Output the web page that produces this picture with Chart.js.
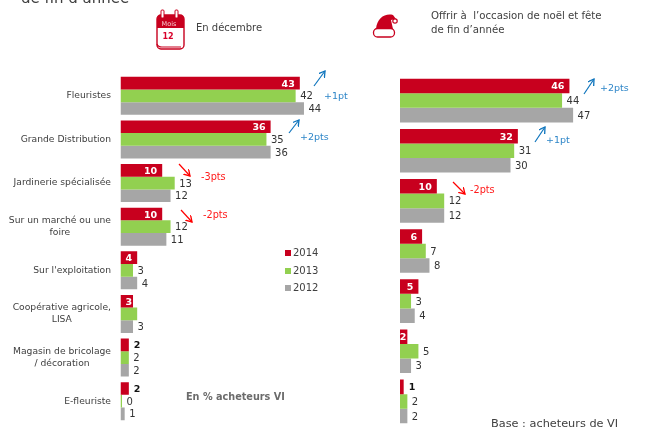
<!DOCTYPE html>
<html>
	<head>
		<meta charset="UTF-8" />
		<title>Achat de fleurs en décembre</title>
		<style type="text/css">
			html, body { margin: 0; padding: 0; background: #fff; }
			body { width: 662px; height: 433px; overflow: hidden; position: relative; font-family: "DejaVu Sans", sans-serif; color: #404040; }
			canvas { position: absolute; top: 0; }
			svg { position: absolute; left: 0; top: 0; }
			.txt { position: absolute; white-space: nowrap; line-height: 1; }
			.blue { color: #2e86c8; font-size: 9.5px; }
			.red { color: #ff1a1a; font-size: 9.7px; }
			.legendBox { position: absolute; width: 6px; height: 6px; }
		</style>
	</head>
	<body>
		<canvas id="chartDecembre"></canvas>
		<canvas id="chartNoel"></canvas>

		<svg width="662" height="433">
			<defs>
				<marker id="headBlue" markerWidth="7" markerHeight="7" refX="5" refY="3" orient="auto"><path d="M0 0L5 3L0 6" fill="none" stroke="#0f75bd" stroke-width="1.1"/></marker>
				<marker id="headRed" markerWidth="7" markerHeight="7" refX="5" refY="3" orient="auto"><path d="M0 0L5 3L0 6" fill="none" stroke="#ff0000" stroke-width="1.1"/></marker>
			</defs>
			<!-- calendrier -->
			<rect x="157" y="15" width="27" height="34" rx="4" fill="#fff" stroke="#c8001e" stroke-width="1.4"/>
			<path d="M157 28V19q0-4 4-4h19q4 0 4 4v9z" fill="#c8001e"/>
			<rect x="162" y="28" width="19" height="18" fill="#fff"/>
			<path d="M157 44q1 3 5 3h19" fill="none" stroke="#c8001e" stroke-width="1.2"/>
			<rect x="161" y="10" width="3" height="8" rx="1" fill="#fff" stroke="#c8001e"/>
			<rect x="175" y="10" width="3" height="8" rx="1" fill="#fff" stroke="#c8001e"/>
			<text x="169" y="26" text-anchor="middle" font-size="6.5" fill="#f6c9cf" font-family="DejaVu Sans">Mois</text>
			<text x="168" y="39" text-anchor="middle" font-size="8" font-weight="bold" fill="#d8002a" font-family="DejaVu Sans">12</text>
			<!-- bonnet -->
			<path d="M376 29C377 18 385 13 393 15L396 19L391 20L393 29z" fill="#c8001e"/>
			<circle cx="395" cy="21" r="2.2" fill="#fff" stroke="#c8001e" stroke-width="1.2"/>
			<rect x="373.5" y="28.5" width="21" height="8.5" rx="4" fill="#fff" stroke="#c8001e" stroke-width="1.3"/>
			<!-- fleches -->
			<line x1="314" y1="86" x2="325" y2="71" stroke="#0f75bd" stroke-width="1.2" marker-end="url(#headBlue)"/>
			<line x1="289" y1="133" x2="299" y2="120" stroke="#0f75bd" stroke-width="1.2" marker-end="url(#headBlue)"/>
			<line x1="179" y1="164" x2="190" y2="176" stroke="#ff0000" stroke-width="1.2" marker-end="url(#headRed)"/>
			<line x1="181" y1="210" x2="192" y2="222" stroke="#ff0000" stroke-width="1.2" marker-end="url(#headRed)"/>
			<line x1="584" y1="94" x2="594" y2="79" stroke="#0f75bd" stroke-width="1.2" marker-end="url(#headBlue)"/>
			<line x1="535" y1="142" x2="545" y2="127" stroke="#0f75bd" stroke-width="1.2" marker-end="url(#headBlue)"/>
			<line x1="453" y1="182" x2="465" y2="194" stroke="#ff0000" stroke-width="1.2" marker-end="url(#headRed)"/>
		</svg>

		<div class="txt" style="left:21px;top:-9.5px;font-size:15px;">de fin d’année</div>
		<div class="txt" style="left:196px;top:23px;font-size:10px;">En décembre</div>
		<div class="txt" style="left:431px;top:11px;font-size:10.2px;">Offrir à&nbsp; l’occasion de noël et fête</div>
		<div class="txt" style="left:431px;top:25px;font-size:10.2px;">de fin d’année</div>
		<div class="txt" style="left:186px;top:392px;font-size:9.7px;font-weight:bold;color:#6b6b6b;">En % acheteurs VI</div>
		<div class="txt" style="left:491px;top:418px;font-size:11.3px;">Base : acheteurs de VI</div>

		<div class="txt blue" style="left:324px;top:91px;">+1pt</div>
		<div class="txt blue" style="left:300px;top:132px;">+2pts</div>
		<div class="txt red" style="left:201px;top:172px;">-3pts</div>
		<div class="txt red" style="left:203px;top:210px;">-2pts</div>
		<div class="txt blue" style="left:600px;top:83px;">+2pts</div>
		<div class="txt blue" style="left:546px;top:135px;">+1pt</div>
		<div class="txt red" style="left:470px;top:185px;">-2pts</div>

		<div id="legende"></div>

		<script src="https://cdn.jsdelivr.net/npm/chart.js"></script>
		<script>
			//data
			const annees = ['2014', '2013', '2012'];
			const couleurs = ['#c8001e', '#92d050', '#a6a6a6'];

			const lieux = [
				['Fleuristes'],
				['Grande Distribution'],
				['Jardinerie spécialisée'],
				['Sur un marché ou une', 'foire'],
				["Sur l'exploitation"],
				['Coopérative agricole,', 'LISA'],
				['Magasin de bricolage', '/ décoration'],
				['E-fleuriste']
			];
			const decembre2014 = [43, 36, 10, 10, 4, 3, 2, 2];
			const decembre2013 = [42, 35, 13, 12, 3, 4, 2, 0];
			const decembre2012 = [44, 36, 12, 11, 4, 3, 2, 1];
			// the 2013 bar of Coopérative has no label in the original
			const decembre2013SansEtiquette = [5];

			const occasions = ['Fleuristes', 'Grande Distribution', 'Jardinerie spécialisée', 'Sur un marché ou une foire', "Sur l'exploitation", 'Coopérative agricole, LISA', 'E-fleuriste'];
			const noel2014 = [46, 32, 10, 6, 5, 2, 1];
			const noel2013 = [44, 31, 12, 7, 3, 5, 2];
			const noel2012 = [47, 30, 12, 8, 4, 3, 2];

			//value labels on the bars
			const etiquettes = {
				id: 'etiquettes',
				afterDatasetsDraw(chart, args, opts) {
					const ctx = chart.ctx;
					ctx.save();
					ctx.textBaseline = 'middle';
					chart.data.datasets.forEach((ds, d) => {
						chart.getDatasetMeta(d).data.forEach((bar, i) => {
							const v = ds.data[i];
							if (ds.sansEtiquette && ds.sansEtiquette.includes(i)) return;
							if (d === 0) {
								ctx.font = 'bold 9.5px "DejaVu Sans"';
								if (v <= opts.seuil) {
									ctx.fillStyle = '#111';
									ctx.textAlign = 'left';
									ctx.fillText(v, bar.x + 5, bar.y + 1);
								} else {
									ctx.fillStyle = '#fff';
									ctx.textAlign = 'right';
									ctx.fillText(v, bar.x - (v <= 3 ? 1 : 5), bar.y + 1);
								}
							} else {
								ctx.font = '10px "DejaVu Sans"';
								ctx.fillStyle = '#333';
								ctx.textAlign = 'left';
								ctx.fillText(v, bar.x + 4.5, bar.y + 1);
							}
						});
					});
					ctx.restore();
				}
			};

			//category labels: right edge fixed, lines centred on each other
			const lieuxLabels = {
				id: 'lieuxLabels',
				afterDraw(chart) {
					if (chart.canvas.id !== 'chartDecembre') return;
					const ctx = chart.ctx;
					const y = chart.scales.y;
					ctx.save();
					ctx.font = '9.2px "DejaVu Sans"';
					ctx.fillStyle = '#404040';
					ctx.textAlign = 'center';
					ctx.textBaseline = 'middle';
					chart.data.labels.forEach((lignes, i) => {
						const large = Math.max(...lignes.map(l => ctx.measureText(l).width));
						const mid = y.getPixelForValue(i);
						lignes.forEach((l, n) => {
							ctx.fillText(l, 111 - large / 2, mid + (n - (lignes.length - 1) / 2) * 12);
						});
					});
					ctx.restore();
				}
			};

			function makeChart(id, cssLeft, w, labels, series, xMax, padding, seuil, sansEtiquette) {
				const canvas = document.getElementById(id);
				canvas.style.left = cssLeft + 'px';
				canvas.style.width = w + 'px';
				canvas.style.height = '433px';
				return new Chart(canvas, {
					type: 'bar',
					data: {
						labels: labels,
						datasets: series.map((s, i) => ({
							label: annees[i],
							data: s,
							backgroundColor: couleurs[i],
							categoryPercentage: 0.87,
							barPercentage: 1,
							minBarLength: 1.5,
							sansEtiquette: i === 1 ? sansEtiquette : null
						}))
					},
					options: {
						indexAxis: 'y',
						responsive: false,
						animation: false,
						layout: { padding: padding },
						plugins: {
							legend: { display: false },
							tooltip: { enabled: false },
							etiquettes: { seuil: seuil }
						},
						scales: {
							x: { display: false, min: 0, max: xMax },
							y: { display: false }
						}
					},
					plugins: [etiquettes, lieuxLabels]
				});
			}

			document.getElementById('chartDecembre').width = 332;
			document.getElementById('chartDecembre').height = 433;
			document.getElementById('chartNoel').width = 330;
			document.getElementById('chartNoel').height = 433;

			makeChart('chartDecembre', 0, 332, lieux, [decembre2014, decembre2013, decembre2012], 50,
				{ left: 120.5, right: 3, top: 74, bottom: 10 }, 2, decembre2013SansEtiquette);
			makeChart('chartNoel', 332, 330, occasions, [noel2014, noel2013, noel2012], 60,
				{ left: 68, right: 41, top: 75.5, bottom: 6.5 }, 1, null);

			//legend
			const legende = document.getElementById('legende');
			annees.forEach((a, i) => {
				const top = 253 + i * 17.7;
				legende.innerHTML += '<div class="legendBox" style="left:285px;top:' + (top - 3) + 'px;background:' + couleurs[i] + '"></div>'
					+ '<div class="txt" style="left:293px;top:' + (top - 5) + 'px;font-size:10px;">' + a + '</div>';
			});
		</script>
	</body>
</html>
